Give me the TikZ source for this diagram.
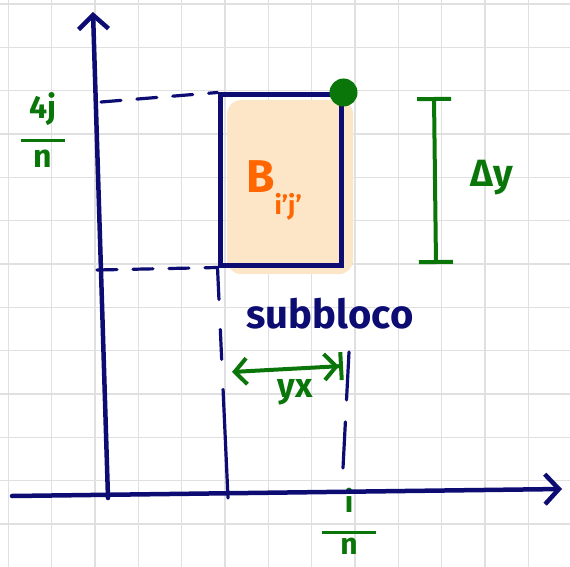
\documentclass[tikz,border=0pt]{standalone}
\usepackage{fontspec}
\setmainfont{Fira Sans}
\usetikzlibrary{arrows.meta}
\definecolor{inknavy}{RGB}{12,12,115}
\definecolor{inkgreen}{RGB}{10,118,10}
\definecolor{inkorange}{RGB}{255,102,0}
\definecolor{peach}{RGB}{253,229,199}
\tikzstyle{gridline} = [draw=black!12, line width=1.2pt]
\tikzstyle{axis} = [line width=4.5pt, draw=inknavy, line cap=round, -{Straight Barb[length=14pt, width=30pt]}]
\tikzstyle{dashline} = [line width=3.2pt, draw=inknavy, line cap=round, dash pattern=on 20pt off 16pt]
\tikzstyle{subblock} = [rectangle, draw=inknavy, line width=5pt, minimum width=121pt, minimum height=170pt, inner sep=0pt]
\tikzstyle{blob} = [rectangle, rounded corners=14pt, fill=peach, minimum width=126pt, minimum height=174pt, inner sep=0pt]
\tikzstyle{dot} = [circle, fill=inkgreen, minimum size=28pt, inner sep=0pt]
\tikzstyle{greenline} = [line width=4pt, draw=inkgreen, line cap=round]
\tikzstyle{navytext} = [text=inknavy, font=\bfseries\fontsize{40}{44}\selectfont]
\tikzstyle{greentext} = [text=inkgreen, font=\bfseries\fontsize{32}{34}\selectfont, align=center]
\tikzstyle{orangetext} = [text=inkorange, font=\bfseries\fontsize{46}{48}\selectfont, inner sep=0pt]
\newcommand{\handfrac}[3]{#1\\[-10pt]\rule{#3}{3.5pt}\\[-9pt]#2}

\begin{document}
\begin{tikzpicture}[x=1pt, y=-1pt]
				\useasboundingbox (0,0) rectangle (570,567);
				% squared paper
				\begin{scope}
					\clip (0,0) rectangle (570,567);
					\draw [gridline, xshift=8.3pt, yshift=-4pt] (-50,620) grid [step=43.33pt] (620,-50);
				\end{scope}
				
				\coordinate (ybot) at (108,498);
				\coordinate (ytop) at (93,12);
				\coordinate (xleft) at (12,496);
				\coordinate (xright) at (562,489);
				\coordinate (yj) at (101,102);
				\coordinate (yb) at (97,270);
				\coordinate (xi0) at (228,498);
				\coordinate (rtop) at (349,352);
				\coordinate (rbot) at (343,468);
				\coordinate (dyt) at (434,97);
				\coordinate (dyb) at (436,264);
				\coordinate (dxl) at (232,372);
				\coordinate (dxr) at (343,366);
				
				\node (fill) [blob] at (290,187) {};
				\node (sub) [subblock] at (280.5,180) {};
				\node (corner) [dot] at (sub.north east) {};
				
				\node (blabel) [orangetext, anchor=base west] at (246,192) {B\raisebox{-22pt}{\fontsize{26}{26}\selectfont i'j'}};
				\node (subtxt) [navytext] at (330,314) {subbloco};
				\node (dylabel) [greentext, font=\bfseries\fontsize{38}{40}\selectfont] at (492,178) {Δy};
				\node (dxlabel) [greentext, font=\bfseries\fontsize{34}{36}\selectfont] at (295,392) {yx};
				\node (jfrac) [greentext] at (43,130) {\handfrac{4j}{n}{1.4em}};
				\node (ifrac) [greentext, inner sep=0pt, font=\bfseries\fontsize{30}{32}\selectfont] at (349,521) {i\\[-10pt]\rule{1.8em}{3.5pt}\\[-12pt]n};
				
				\draw [axis] (xleft) -- (xright);
				\draw [axis] (ybot) -- (ytop);
				
				\draw [dashline] (yj) -- (sub.north west);
				\draw [dashline] (yb) -- (sub.south west);
				\draw [dashline, dash pattern=on 32pt off 30pt on 30pt off 30pt on 140pt] (sub.south west) -- (xi0);
				\draw [dashline, dash pattern=on 48pt off 22pt] (rtop) -- (rbot);
				
				\draw [greenline, {Bar[width=34pt]}-{Bar[width=34pt]}] (dyt) -- (dyb);
				\draw [greenline, {Straight Barb[length=12pt, width=26pt]}-{Straight Barb[length=12pt, width=26pt] Bar[width=28pt]}] (dxl) -- (dxr);
				
\end{tikzpicture}
\end{document}
